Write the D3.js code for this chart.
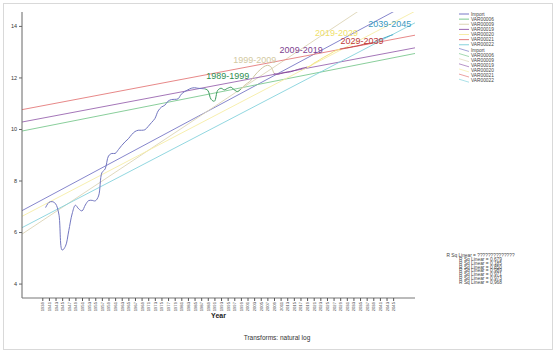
<!DOCTYPE html>
<html><head><meta charset="utf-8">
<script src="https://cdn.jsdelivr.net/npm/d3@7"></script>
<style>
body{margin:0;background:#fff;}
svg{display:block;font-family:"Liberation Sans",Arial,sans-serif;}
</style></head>
<body>
<script>
// ---------- data ----------
const importYears = d3.range(1940, 1989);
const importValues = [6.95,7.15,7.18,7.10,6.70,5.30,5.45,6.05,6.70,7.04,6.90,6.82,7.05,7.22,7.23,7.21,7.40,8.30,8.45,8.95,9.05,9.05,9.20,9.36,9.50,9.62,9.78,9.90,9.95,9.95,9.97,10.10,10.25,10.40,10.70,10.85,10.92,11.08,11.14,11.15,11.17,11.35,11.45,11.52,11.58,11.60,11.58,11.57,11.56];
const var06Years = d3.range(1988, 2000);
const var06Values = [11.56,11.50,11.15,11.08,11.50,11.58,11.52,11.58,11.62,11.52,11.45,11.55];
const var09Years = d3.range(1999, 2010);
const var09Values = [11.55,11.68,11.78,11.88,12.05,12.20,12.32,12.42,12.47,12.42,12.15];
const var19Years = d3.range(2009, 2020);
const var19Values = [12.15,12.12,12.15,12.18,12.20,12.22,12.26,12.30,12.34,12.37,12.40];
const var20Years = d3.range(2019, 2030);
const var20Values = [12.40,12.45,12.55,12.62,12.70,12.78,12.85,12.92,13.00,13.06,13.11];
const var21Years = d3.range(2029, 2040);
const var21Values = [13.11,13.13,13.15,13.17,13.20,13.22,13.25,13.28,13.30,13.33,13.35];
const var22Years = d3.range(2039, 2046);
const var22Values = [13.35,13.42,13.48,13.52,13.57,13.62,13.66];

const seriesNames = ["Import","VAR00006","VAR00009","VAR00019","VAR00020","VAR00021","VAR00022"];
// linear fit lines: value at the left and right ends of the x axis
const fitStartValues = [6.83, 9.92, 5.92, 10.27, 6.61, 10.75, 6.17];
const fitEndValues   = [15.0, 12.93, 16.03, 13.15, 14.57, 13.64, 14.12];
const segmentLabels = ["1989-1999","1999-2009","2009-2019","2019-2029","2029-2039","2039-2045"];
const labelYears  = [1995.0, 2003.2, 2017.2, 2027.9, 2035.6, 2044.0];
const labelValues = [11.93, 12.58, 12.96, 13.62, 13.28, 13.97];
const rsqLabels = ["R Sq Linear = ??????????????","R Sq Linear = 0,679","R Sq Linear = 0,185","R Sq Linear = 0,850","R Sq Linear = 0,989","R Sq Linear = 0,971","R Sq Linear = 0,973","R Sq Linear = 0,968"];
const xTickYears = d3.range(1939, 2046, 2);
const yTickValues = [4,6,8,10,12,14];
const xDomain = [1932.87, 2051.6];
const yDomain = [3.44, 14.54];

// ---------- styles ----------
const dataColors = ["#7276c0","#3a9a5c","#cfc6a0","#8a4d9c","#f3e27a","#c84848","#4aa8c8"];
const fitColors  = ["#7878c6","#7cc890","#ddd5b5","#9a66b0","#f6eda6","#e47a7a","#86d2dc"];
const labelColors = ["#2f8f50","#d2c9a2","#7e3f90","#f0df6a","#c03a3a","#3a9ac0"];

const W = 558, H = 352;
const svg = d3.select("body").append("svg").attr("width", W).attr("height", H);
svg.append("rect").attr("x",3.5).attr("y",3.5).attr("width",549).attr("height",346)
  .attr("fill","#fff").attr("stroke","#d9d9d9");

const x = d3.scaleLinear().domain(xDomain).range([22, 415]);
const y = d3.scaleLinear().domain(yDomain).range([298, 12]);

svg.append("clipPath").attr("id","plot").append("rect")
  .attr("x",22).attr("y",12).attr("width",393).attr("height",286);

const g = svg.append("g").attr("clip-path","url(#plot)");

// fit lines
seriesNames.forEach((n,i)=>{
  g.append("line")
    .attr("x1", x(xDomain[0])).attr("y1", y(fitStartValues[i]))
    .attr("x2", x(xDomain[1])).attr("y2", y(fitEndValues[i]))
    .attr("stroke", fitColors[i]).attr("stroke-width", 0.9);
});

// data lines
const allYears = [importYears, var06Years, var09Years, var19Years, var20Years, var21Years, var22Years];
const allValues = [importValues, var06Values, var09Values, var19Values, var20Values, var21Values, var22Values];
const line = d3.line().curve(d3.curveCatmullRom.alpha(0.5));
allYears.forEach((yrs,i)=>{
  const pts = yrs.map((yr,k)=>[x(yr), y(allValues[i][k])]);
  g.append("path").attr("d", line(pts)).attr("fill","none")
    .attr("stroke", dataColors[i]).attr("stroke-width", 1);
});

// segment labels
segmentLabels.forEach((t,i)=>{
  svg.append("text").attr("x", x(labelYears[i])).attr("y", y(labelValues[i]))
    .attr("text-anchor","middle").attr("font-size", 9).attr("fill", labelColors[i])
    .text(t);
});

// axes
const yAxis = d3.axisLeft(y).tickValues(yTickValues).tickSize(3).tickPadding(2).tickFormat(d3.format("d"));
const ya = svg.append("g").attr("transform","translate(22,0)").call(yAxis);
ya.select(".domain").attr("stroke","#666").attr("d","M0,12V298");
ya.selectAll(".tick line").attr("stroke","#666");
ya.selectAll("text").attr("font-size",5.5).attr("fill","#333");

const xAxis = d3.axisBottom(x).tickValues(xTickYears).tickSize(3).tickFormat(d3.format("d"));
const xa = svg.append("g").attr("transform","translate(0,298)").call(xAxis);
xa.select(".domain").attr("stroke","#777").attr("d","M22,0H415");
xa.selectAll(".tick line").attr("stroke","#555");
xa.selectAll("text").attr("font-size",4.2).attr("fill","#444")
  .attr("text-anchor","end").attr("dy","0.35em")
  .attr("transform","rotate(-90)").attr("y",0).attr("x",-4);

svg.append("text").attr("x",218.5).attr("y",318).attr("text-anchor","middle")
  .attr("font-size",7).attr("font-weight","bold").attr("fill","#222").text("Year");
svg.append("text").attr("x",277).attr("y",340).attr("text-anchor","middle")
  .attr("font-size",6.5).attr("fill","#333").text("Transforms: natural log");

// legend
const legend = svg.append("g");
const legendItems = seriesNames.concat(seriesNames);
legendItems.forEach((n,i)=>{
  const ly = 14 + i*5.13;
  const ci = i % 7;
  if (i < 7) {
    legend.append("line").attr("x1",459).attr("x2",469).attr("y1",ly).attr("y2",ly)
      .attr("stroke", fitColors[ci]).attr("stroke-width", 1);
  } else {
    legend.append("line").attr("x1",459).attr("x2",469).attr("y1",ly-1.5).attr("y2",ly+1.5)
      .attr("stroke", fitColors[ci]).attr("stroke-width", 0.7);
  }
  legend.append("text").attr("x",471).attr("y",ly).attr("dy","0.35em")
    .attr("font-size",4.8).attr("fill","#444").text(n);
});

// R sq block
rsqLabels.forEach((t,i)=>{
  svg.append("text").attr("x",480.5).attr("y",255.5 + i*3.8).attr("dy","0.35em")
    .attr("text-anchor","middle").attr("font-size",4.8).attr("fill","#444").text(t);
});
</script>
</body></html>
